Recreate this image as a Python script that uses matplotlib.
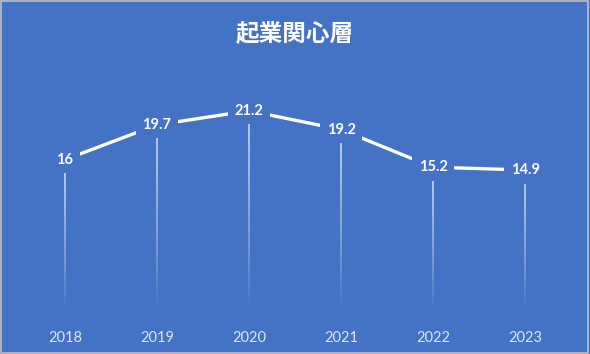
import matplotlib.pyplot as plt
import numpy as np
from matplotlib.collections import LineCollection
from matplotlib.patches import Rectangle

years = ['2018', '2019', '2020', '2021', '2022', '2023']
values = [16, 19.7, 21.2, 19.2, 15.2, 14.9]
title = '起業関心層'

bg = '#4472C4'

plt.rcParams['font.family'] = ['Lato', 'Noto Sans CJK JP', 'DejaVu Sans']

fig = plt.figure(figsize=(5.9, 3.54), dpi=100, facecolor=bg)
ax = fig.add_axes([0.032, 0.124, 0.936, 0.664])
ax.set_facecolor(bg)

x = np.arange(len(years))

# drop lines fading to the bottom
for xi, v in zip(x, values):
    ys = np.linspace(v, 0, 60)
    segs = [[(xi, ys[i]), (xi, ys[i + 1])] for i in range(len(ys) - 1)]
    alphas = np.linspace(0.8, 0.0, len(segs)) ** 0.8
    cols = [(1, 1, 1, a) for a in alphas]
    ax.add_collection(LineCollection(segs, colors=cols, linewidths=1.1, zorder=1))

ax.plot(x, values, color='white', lw=2.4, solid_capstyle='butt', zorder=2)

for xi, v in zip(x, values):
    ax.text(xi, v, f'{v:g}', ha='center', va='center', color='white',
            fontsize=10.5, fontweight='bold', zorder=3,
            bbox=dict(boxstyle='square,pad=0.45', fc=bg, ec='none'))

ax.set_xlim(-0.5, len(years) - 0.5)
ax.set_ylim(0, 25)
ax.set_xticks(x)
ax.set_xticklabels(years, color='#E6E6E6', fontsize=10.5)
ax.tick_params(axis='x', length=0, pad=15)
ax.set_yticks([])
for s in ax.spines.values():
    s.set_visible(False)

fig.text(0.5, 0.905, title, ha='center', va='center', color='white',
         fontsize=17, fontweight='bold', family=['Noto Sans CJK JP', 'DejaVu Sans'])

fig.patches.append(Rectangle((0.001, 0.002), 0.996, 0.994, transform=fig.transFigure,
                             fill=False, ec='#BFBFBF', lw=1.2))

fig.savefig('out.png', dpi=100, facecolor=bg)
